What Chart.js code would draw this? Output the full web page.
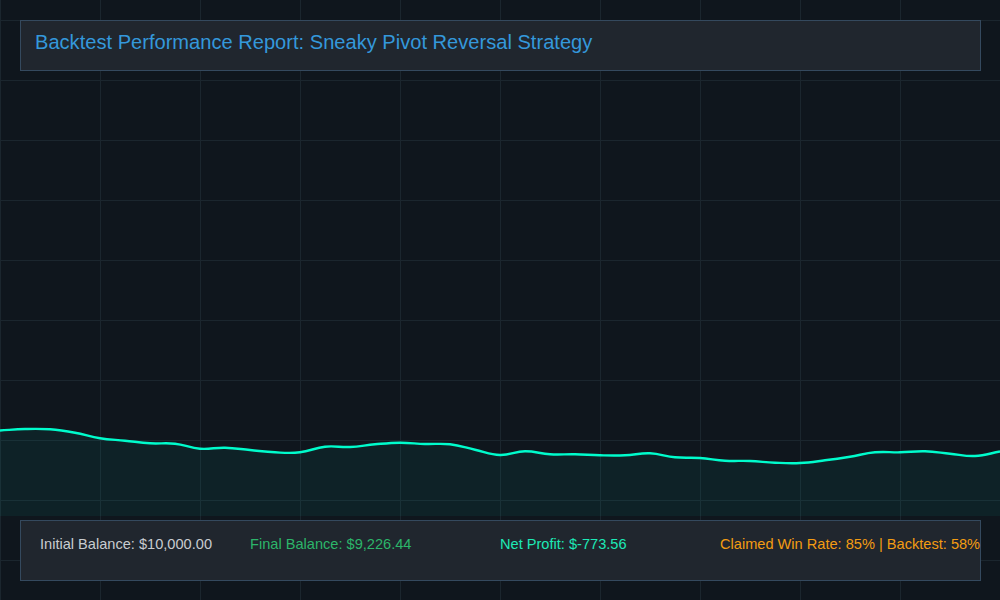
<!DOCTYPE html>
<html>
<head>
<meta charset="utf-8">
<script src="https://cdn.jsdelivr.net/npm/chart.js@4"></script>
<style>
  html, body { margin: 0; padding: 0; }
  body {
    width: 1000px; height: 600px; overflow: hidden; position: relative;
    background-color: #0f161d;
    background-image:
      linear-gradient(to right, #1b262e 1px, transparent 1px),
      linear-gradient(to bottom, #1b262e 1px, transparent 1px);
    background-size: 100px 60px, 100px 60px;
    background-position: 0 0, 0 20px;
    font-family: "Liberation Sans", Arial, sans-serif;
  }
  #wrap { position: absolute; left: 0; top: 0; width: 1000px; height: 516px; }
  .box {
    position: absolute; left: 20px; width: 959px;
    background: #20262e; border: 1px solid #34495e;
  }
  #titleBox { top: 20px; height: 49px; }
  #statsBox { top: 520px; height: 59px; }
  .txt { position: absolute; white-space: nowrap; }
  #title { left: 14px; top: 11px; font-size: 20.1px; line-height: 20px; color: #3498db; }
  .stat { top: 16px; font-size: 14.6px; line-height: 14px; }
</style>
</head>
<body>
<div id="wrap"><canvas id="equity"></canvas></div>

<div class="box" id="titleBox">
  <span class="txt" id="title">Backtest Performance Report: Sneaky Pivot Reversal Strategy</span>
</div>
<div class="box" id="statsBox">
  <span class="txt stat" style="left:19px;color:#c8ccd0">Initial Balance: $10,000.00</span>
  <span class="txt stat" style="left:229px;color:#2cb56a">Final Balance: $9,226.44</span>
  <span class="txt stat" style="left:479px;color:#1de9b6">Net Profit: $-773.56</span>
  <span class="txt stat" style="left:699px;color:#f39c12">Claimed Win Rate: 85% | Backtest: 58%</span>
</div>

<script>
// equity curve, one value per step of the backtest
const steps = [];
for (let i = 0; i <= 40; i++) steps.push(i);

const balance = [
  10000, 10053, 10042, 9917, 9711, 9623, 9527, 9512, 9328, 9365,
  9280, 9195, 9195, 9402, 9391, 9490, 9549, 9501, 9490, 9291,
  9096, 9232, 9122, 9122, 9085, 9085, 9159, 9011, 8986, 8886,
  8875, 8813, 8801, 8901, 9033, 9195, 9195, 9232, 9144, 9059,
  9226.44
];

const ctx = document.getElementById('equity');

new Chart(ctx, {
  type: 'line',
  data: {
    labels: steps,
    datasets: [{
      label: 'Equity',
      data: balance,
      borderColor: '#00fccc',
      borderWidth: 2.4,
      backgroundColor: 'rgba(0, 245, 200, 0.06)',
      fill: 'start',
      tension: 0.4,
      pointRadius: 0
    }]
  },
  options: {
    responsive: true,
    maintainAspectRatio: false,
    animation: false,
    layout: { padding: 0 },
    plugins: {
      legend: { display: false },
      tooltip: { enabled: false }
    },
    scales: {
      x: { display: false, offset: false },
      y: { display: false, min: 6850, max: 25850 }
    }
  }
});
</script>
</body>
</html>
